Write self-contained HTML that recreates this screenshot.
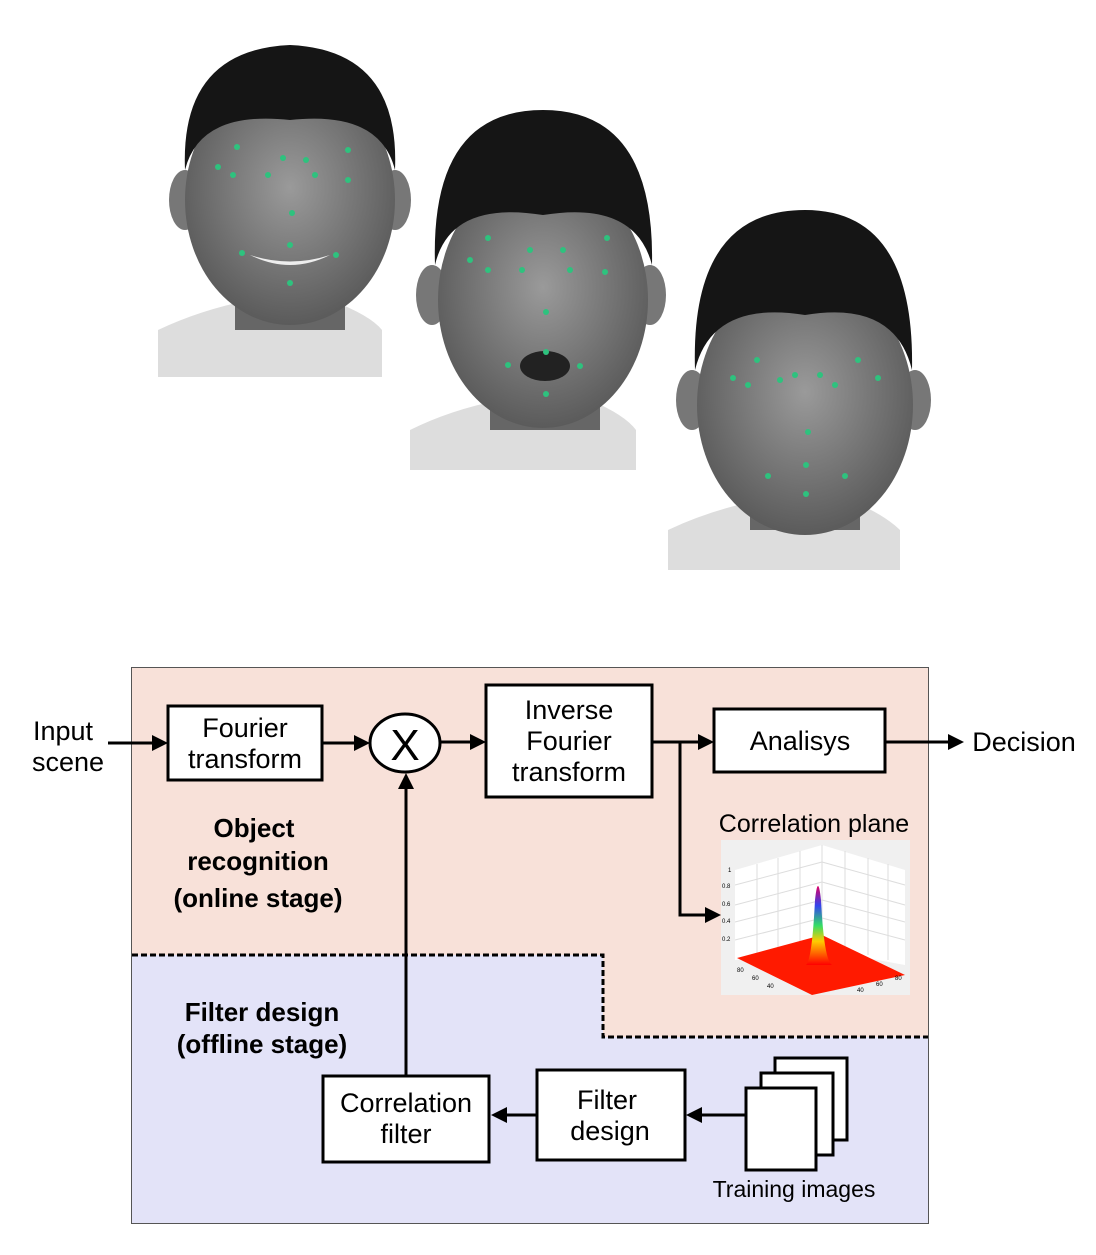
<!DOCTYPE html>
<html><head><style>
body{margin:0;background:#fff;}
svg text{font-family:"Liberation Sans",sans-serif;fill:#000;}
</style></head><body>
<svg width="1096" height="1250" xmlns="http://www.w3.org/2000/svg">
<defs>
<radialGradient id="sk" cx="50%" cy="45%" r="60%"><stop offset="0" stop-color="#9a9a9a"/><stop offset="1" stop-color="#555"/></radialGradient>
<linearGradient id="pk" x1="0" y1="1" x2="0" y2="0"><stop offset="0" stop-color="#ff0000"/><stop offset="0.3" stop-color="#ffcc00"/><stop offset="0.5" stop-color="#33dd66"/><stop offset="0.75" stop-color="#3344ee"/><stop offset="1" stop-color="#dd0066"/></linearGradient>
</defs>
<!-- face 1 -->
<g>
<path d="M158 377 L158 330 Q200 310 250 300 L330 300 Q370 315 382 330 L382 377Z" fill="#ddd"/>
<rect x="235" y="270" width="110" height="60" fill="#666"/>
<ellipse cx="185" cy="200" rx="16" ry="30" fill="#777"/>
<ellipse cx="395" cy="200" rx="16" ry="30" fill="#777"/>
<ellipse cx="290" cy="200" rx="105" ry="125" fill="url(#sk)"/>
<path d="M185 170 Q180 50 290 45 Q400 50 395 170 Q380 110 290 120 Q200 110 185 170Z" fill="#151515"/>
<path d="M250 255 Q290 275 330 255 Q290 268 250 255Z" fill="#eee"/>
<g fill="#2ec27e"><circle cx="237" cy="147" r="3"/><circle cx="218" cy="167" r="3"/><circle cx="268" cy="175" r="3"/><circle cx="233" cy="175" r="3"/><circle cx="283" cy="158" r="3"/><circle cx="306" cy="160" r="3"/><circle cx="348" cy="150" r="3"/><circle cx="315" cy="175" r="3"/><circle cx="348" cy="180" r="3"/><circle cx="292" cy="213" r="3"/><circle cx="242" cy="253" r="3"/><circle cx="290" cy="245" r="3"/><circle cx="336" cy="255" r="3"/><circle cx="290" cy="283" r="3"/></g>
</g>
<!-- face 2 -->
<g>
<path d="M410 470 L410 430 Q450 410 500 400 L590 400 Q625 415 636 430 L636 470Z" fill="#ddd"/>
<rect x="490" y="370" width="110" height="60" fill="#666"/>
<ellipse cx="432" cy="295" rx="16" ry="30" fill="#777"/>
<ellipse cx="650" cy="295" rx="16" ry="30" fill="#777"/>
<ellipse cx="543" cy="300" rx="105" ry="128" fill="url(#sk)"/>
<path d="M435 265 Q430 110 543 110 Q655 110 652 265 Q635 200 543 215 Q450 200 435 265Z" fill="#151515"/>
<ellipse cx="545" cy="366" rx="25" ry="15" fill="#222"/>
<g fill="#2ec27e"><circle cx="488" cy="238" r="3"/><circle cx="470" cy="260" r="3"/><circle cx="522" cy="270" r="3"/><circle cx="488" cy="270" r="3"/><circle cx="530" cy="250" r="3"/><circle cx="563" cy="250" r="3"/><circle cx="607" cy="238" r="3"/><circle cx="570" cy="270" r="3"/><circle cx="605" cy="272" r="3"/><circle cx="546" cy="312" r="3"/><circle cx="508" cy="365" r="3"/><circle cx="546" cy="352" r="3"/><circle cx="580" cy="366" r="3"/><circle cx="546" cy="394" r="3"/></g>
</g>
<!-- face 3 -->
<g>
<path d="M668 570 L668 530 Q710 510 760 500 L850 500 Q885 515 900 530 L900 570Z" fill="#ddd"/>
<rect x="750" y="470" width="110" height="60" fill="#666"/>
<ellipse cx="692" cy="400" rx="16" ry="30" fill="#777"/>
<ellipse cx="915" cy="400" rx="16" ry="30" fill="#777"/>
<ellipse cx="805" cy="405" rx="108" ry="130" fill="url(#sk)"/>
<path d="M695 370 Q690 210 805 210 Q915 210 912 370 Q895 300 805 315 Q712 300 695 370Z" fill="#151515"/>
<g fill="#2ec27e"><circle cx="757" cy="360" r="3"/><circle cx="733" cy="378" r="3"/><circle cx="780" cy="380" r="3"/><circle cx="748" cy="385" r="3"/><circle cx="795" cy="375" r="3"/><circle cx="820" cy="375" r="3"/><circle cx="858" cy="360" r="3"/><circle cx="835" cy="385" r="3"/><circle cx="878" cy="378" r="3"/><circle cx="808" cy="432" r="3"/><circle cx="768" cy="476" r="3"/><circle cx="806" cy="465" r="3"/><circle cx="845" cy="476" r="3"/><circle cx="806" cy="494" r="3"/></g>
</g>

<!-- diagram background -->
<rect x="131.5" y="667.5" width="797" height="556" fill="#e3e3f8" stroke="#555" stroke-width="1"/>
<path d="M132 668 L928 668 L928 1037 L603 1037 L603 955 L132 955Z" fill="#f8e1d9"/>
<rect x="131.5" y="667.5" width="797" height="556" fill="none" stroke="#555" stroke-width="1"/>
<path d="M132 955 L603 955 L603 1037 L928 1037" fill="none" stroke="#000" stroke-width="3" stroke-dasharray="6,3"/>

<g fill="#fff" stroke="#000" stroke-width="3">
<rect x="168" y="706" width="154" height="74"/>
<ellipse cx="405" cy="743" rx="35" ry="29"/>
<rect x="486" y="685" width="166" height="112"/>
<rect x="714" y="709" width="171" height="63"/>
<rect x="323" y="1076" width="166" height="86"/>
<rect x="537" y="1070" width="148" height="90"/>
<rect x="775" y="1058" width="72" height="82"/>
<rect x="761" y="1073" width="72" height="82"/>
<rect x="746" y="1088" width="70" height="82"/>
</g>
<text x="405" y="760" font-size="44" text-anchor="middle">X</text>

<g stroke="#000" stroke-width="3" fill="none">
<line x1="108" y1="743" x2="155" y2="743"/>
<line x1="322" y1="743" x2="357" y2="743"/>
<line x1="440" y1="742" x2="474" y2="742"/>
<line x1="652" y1="742" x2="702" y2="742"/>
<polyline points="680,742 680,915 708,915"/>
<line x1="885" y1="742" x2="950" y2="742"/>
<line x1="406" y1="1076" x2="406" y2="786"/>
<line x1="537" y1="1115" x2="505" y2="1115"/>
<line x1="745" y1="1115" x2="700" y2="1115"/>
</g>
<g fill="#000">
<polygon points="168,743 152,735 152,751"/>
<polygon points="370,743 354,735 354,751"/>
<polygon points="486,742 470,734 470,750"/>
<polygon points="714,742 698,734 698,750"/>
<polygon points="721,915 705,907 705,923"/>
<polygon points="964,742 948,734 948,750"/>
<polygon points="406,773 398,789 414,789"/>
<polygon points="491,1115 507,1107 507,1123"/>
<polygon points="686,1115 702,1107 702,1123"/>
</g>

<g font-size="27" text-anchor="middle">
<text x="63" y="740">Input</text><text x="68" y="771">scene</text>
<text x="245" y="737">Fourier</text><text x="245" y="768">transform</text>
<text x="569" y="719">Inverse</text><text x="569" y="750">Fourier</text><text x="569" y="781">transform</text>
<text x="800" y="750">Analisys</text>
<text x="1024" y="751">Decision</text>
<text x="406" y="1112">Correlation</text><text x="406" y="1143">filter</text>
<text x="607" y="1109">Filter</text><text x="610" y="1140">design</text>
<text x="814" y="832" font-size="25">Correlation plane</text>
<text x="794" y="1197" font-size="23">Training images</text>
</g>
<g font-size="26" font-weight="bold" text-anchor="middle">
<text x="254" y="837">Object</text><text x="258" y="870">recognition</text><text x="258" y="907">(online stage)</text>
<text x="262" y="1021">Filter design</text><text x="262" y="1053">(offline stage)</text>
</g>

<!-- correlation plot -->
<rect x="721" y="840" width="189" height="155" fill="#f0f0f0"/>
<polygon points="735,870 822,845 905,870 905,965 822,950 735,960" fill="#fff"/>
<g stroke="#ddd" stroke-width="1">
<line x1="735" y1="885" x2="822" y2="862"/><line x1="735" y1="905" x2="822" y2="882"/><line x1="735" y1="922" x2="822" y2="900"/><line x1="735" y1="940" x2="822" y2="918"/>
<line x1="822" y1="862" x2="905" y2="885"/><line x1="822" y1="882" x2="905" y2="905"/><line x1="822" y1="900" x2="905" y2="922"/><line x1="822" y1="918" x2="905" y2="940"/>
<line x1="757" y1="864" x2="757" y2="958"/><line x1="778" y1="858" x2="778" y2="955"/><line x1="800" y1="851" x2="800" y2="952"/><line x1="845" y1="851" x2="845" y2="952"/><line x1="868" y1="858" x2="868" y2="955"/><line x1="888" y1="864" x2="888" y2="960"/>
<line x1="822" y1="845" x2="822" y2="950"/>
</g>
<polygon points="737,958 822,935 905,975 812,995" fill="#ff1a00"/>
<path d="M806 965 Q812 960 815 900 Q818 872 821 900 Q824 960 832 965 Z" fill="url(#pk)"/>
<g font-size="6" fill="#555"><text x="728" y="872">1</text><text x="722" y="888">0.8</text><text x="722" y="906">0.6</text><text x="722" y="923">0.4</text><text x="722" y="941">0.2</text><text x="737" y="972">80</text><text x="752" y="980">60</text><text x="767" y="988">40</text><text x="895" y="980">80</text><text x="876" y="986">60</text><text x="857" y="992">40</text></g>
</svg>
</body></html>
